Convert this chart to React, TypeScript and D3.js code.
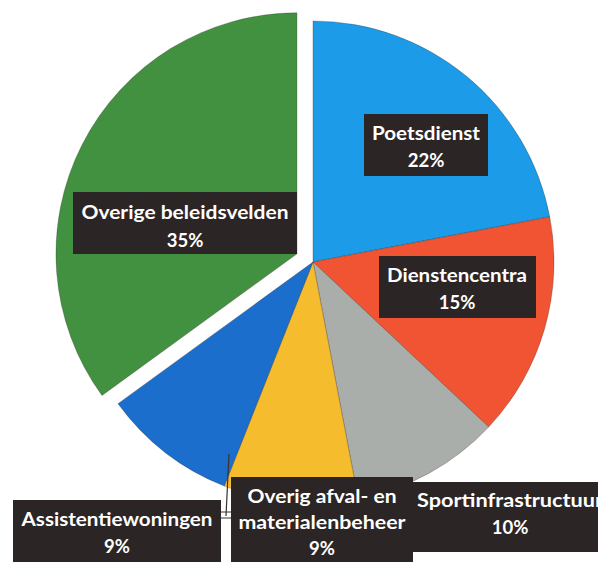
import React from "react";
import * as d3 from "d3";

const categories = [
  "Poetsdienst",
  "Dienstencentra",
  "Sportinfrastructuur",
  "Overig afval- en materialenbeheer",
  "Assistentiewoningen",
  "Overige beleidsvelden",
];
const values = [22, 15, 10, 9, 9, 35];
const labelNames = [
  ["Poetsdienst"],
  ["Dienstencentra"],
  ["Sportinfrastructuur"],
  ["Overig afval- en", "materialenbeheer"],
  ["Assistentiewoningen"],
  ["Overige beleidsvelden"],
];
const percentLabels = ["22%", "15%", "10%", "9%", "9%", "35%"];

// styling / layout (separate from data)
const colors = ["#1C9CE8", "#F05432", "#AAAEAB", "#F5BD2E", "#1B6ECC", "#429141"];
const explode = [0, 0, 0, 0, 0, 18];
const boxes = [
  { x0: 364, y0: 114, x1: 488, y1: 176, cx: 426, lines: [133, 160], widths: [108] },
  { x0: 379, y0: 256, x1: 536, y1: 318, cx: 457, lines: [275, 302], widths: [140] },
  { x0: 413, y0: 482, x1: 606, y1: 552, cx: 510, lines: [500, 527], widths: [186] },
  { x0: 231, y0: 477, x1: 413, y1: 566, cx: 322, lines: [496, 522, 548], widths: [149, 167] },
  { x0: 13, y0: 500, x1: 221, y1: 562, cx: 117, lines: [519, 546], widths: [191] },
  { x0: 73, y0: 192, x1: 297, y1: 254, cx: 185, lines: [212, 240], widths: [207] },
];

const W = 598;
const H = 562;
const CX = 313;
const CY = 262;
const R = 241;

export default function App() {
  const pie = d3
    .pie<number>()
    .sort(null)
    .value((d) => d)
    .startAngle(0)
    .endAngle(2 * Math.PI);
  const arcs = pie(values);
  const arc = d3.arc<d3.PieArcDatum<number>>().innerRadius(0).outerRadius(R);

  return (
    <svg
      width={W}
      height={H}
      style={{ position: "absolute", left: 0, top: 0, background: "#fff" }}
      fontFamily="Lato, 'Open Sans', sans-serif"
    >
      <rect x={0} y={0} width={W} height={H} fill="#ffffff" />
      <g transform={`translate(${CX},${CY})`}>
        {arcs.map((a, i) => {
          const mid = (a.startAngle + a.endAngle) / 2;
          const dx = Math.sin(mid) * explode[i];
          const dy = -Math.cos(mid) * explode[i];
          return (
            <path
              key={categories[i]}
              d={arc(a) || ""}
              transform={`translate(${dx},${dy})`}
              fill={colors[i]}
              stroke="rgba(40,30,30,0.35)"
              strokeWidth={0.8}
            />
          );
        })}
      </g>
      {/* leader line for small label */}
      <path d="M229,454 L226,516 M221,512 L231,512 M221,518 L231,518" stroke="#3a3030" strokeWidth={1.2} fill="none" />
      {boxes.map((b, i) => {
        const names = labelNames[i];
        const lines = [...names, percentLabels[i]];
        return (
          <g key={"lbl" + i}>
            <rect x={b.x0} y={b.y0} width={b.x1 - b.x0} height={b.y1 - b.y0} fill="#2c2525" />
            {lines.map((t, j) => (
              <text
                key={j}
                x={b.cx}
                y={b.lines[j]}
                textAnchor="middle"
                dominantBaseline="central"
                fill="#ffffff"
                fontWeight="bold"
                fontSize={18.5}
                {...(j < names.length
                  ? { textLength: b.widths[j], lengthAdjust: "spacingAndGlyphs" }
                  : {})}
              >
                {t}
              </text>
            ))}
          </g>
        );
      })}
    </svg>
  );
}
